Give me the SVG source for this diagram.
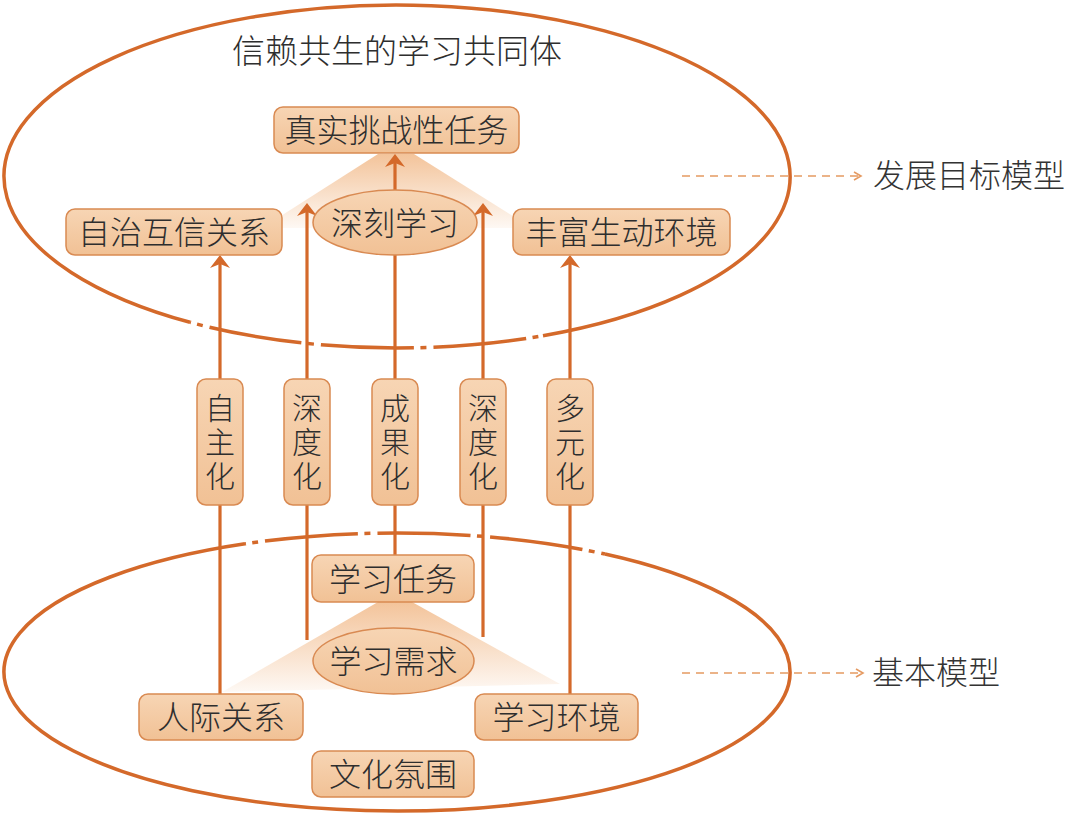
<svg xmlns="http://www.w3.org/2000/svg" width="1075" height="818" viewBox="0 0 1075 818">
<defs>
<style>
.t{font-family:"Noto Sans CJK SC","Noto Sans",sans-serif;font-weight:300;fill:#2e2e2e;text-anchor:middle;}
.v{writing-mode:vertical-rl;font-size:30px;letter-spacing:4px;}
.box{fill:url(#boxg);stroke:#d98a52;stroke-width:1.5;}
.ring{fill:none;stroke:#d4692a;stroke-width:3.5;}
.dd{stroke-dasharray:6 7 93 6.5;stroke-dashoffset:105;}
.ln{stroke:#d4692a;stroke-width:3.2;fill:none;}
.ar{marker-end:url(#ah);}
.lead{stroke:#e59a62;stroke-width:1.6;fill:none;stroke-dasharray:8 6;}
.chev{stroke:#e59a62;stroke-width:1.6;fill:none;}
.lbl{font-family:"Noto Sans CJK SC","Noto Sans",sans-serif;font-weight:300;fill:#333;font-size:32px;}
</style>
<linearGradient id="boxg" x1="0" y1="0" x2="0" y2="1"><stop offset="0" stop-color="#f7d5b4"/><stop offset="1" stop-color="#f1c195"/></linearGradient>
<linearGradient id="shade" x1="0" y1="0" x2="0" y2="1"><stop offset="0" stop-color="#f2bd8f" stop-opacity="0.9"/><stop offset="1" stop-color="#f2bd8f" stop-opacity="0.1"/></linearGradient>
<marker id="ah" viewBox="-10 -11 16 22" markerWidth="16" markerHeight="22" refX="0" refY="0" orient="auto" markerUnits="userSpaceOnUse"><path d="M5,0 L-8,-10 L-4,0 L-8,10 Z" fill="#d4692a"/></marker>
</defs>
<rect width="1075" height="818" fill="#fff"/>

<g id="shading">
<polygon points="378,154 414,154 532,228 262,228" fill="url(#shade)"/>
<polygon points="378,602 412,602 560,684 222,692" fill="url(#shade)"/>
</g>

<g id="rings">
<path class="ring" d="M190,322.28 A393,171.5 0 1 1 543,335.73"/>
<path class="ring dd" d="M190,322.28 A393,171.5 0 0 0 543,335.73"/>
<path class="ring dd" d="M245,543.82 A393,139 0 0 1 605,554.06"/>
<path class="ring" d="M605,554.06 A393,139 0 1 1 245,543.82"/>
</g>

<g id="connectors">
<path class="ln" d="M220,694 V505"/>
<path class="ln ar" d="M220,379 V260"/>
<path class="ln" d="M307,640 V505"/>
<path class="ln ar" d="M307,379 V208"/>
<path class="ln" d="M395,555 V505"/>
<path class="ln" d="M395,379 V255"/>
<path class="ln ar" d="M395,190 V159"/>
<path class="ln" d="M483,637 V505"/>
<path class="ln ar" d="M483,379 V208"/>
<path class="ln" d="M570,694 V505"/>
<path class="ln ar" d="M570,379 V260"/>
<path class="lead" d="M682,176 H860"/>
<polyline class="chev" points="854,172 861,176 854,180"/>
<path class="lead" d="M682,673 H862"/>
<polyline class="chev" points="856,669 863,673 856,677"/>
</g>

<g id="title"><text class="t" x="397" y="63" font-size="33">信赖共生的学习共同体</text></g>

<g id="n-zhenshi"><rect class="box" x="274" y="107" width="245" height="46" rx="9"/><text class="t" x="396.5" y="142" font-size="32">真实挑战性任务</text></g>
<g id="n-zizhi"><rect class="box" x="66" y="209" width="216" height="46" rx="9"/><text class="t" x="174" y="244" font-size="32">自治互信关系</text></g>
<g id="n-fengfu"><rect class="box" x="513" y="209" width="217" height="46" rx="9"/><text class="t" x="621.5" y="244" font-size="32">丰富生动环境</text></g>
<g id="n-shenke"><ellipse class="box" cx="395" cy="222.5" rx="82" ry="32.5"/><text class="t" x="395" y="235" font-size="32">深刻学习</text></g>

<g id="n-zizhu"><rect class="box" x="197" y="379" width="46" height="126" rx="9"/><text class="t v" x="220" y="444">自主化</text></g>
<g id="n-shendu1"><rect class="box" x="284" y="379" width="46" height="126" rx="9"/><text class="t v" x="307" y="444">深度化</text></g>
<g id="n-chengguo"><rect class="box" x="372" y="379" width="46" height="126" rx="9"/><text class="t v" x="395" y="444">成果化</text></g>
<g id="n-shendu2"><rect class="box" x="460" y="379" width="46" height="126" rx="9"/><text class="t v" x="483" y="444">深度化</text></g>
<g id="n-duoyuan"><rect class="box" x="547" y="379" width="46" height="126" rx="9"/><text class="t v" x="570" y="444">多元化</text></g>

<g id="n-renwu"><rect class="box" x="312" y="555" width="162" height="47" rx="9"/><text class="t" x="393" y="591" font-size="32">学习任务</text></g>
<g id="n-xuqiu"><ellipse class="box" cx="393.5" cy="661" rx="80.5" ry="33"/><text class="t" x="393.5" y="673" font-size="32">学习需求</text></g>
<g id="n-renji"><rect class="box" x="139" y="694" width="164" height="46" rx="9"/><text class="t" x="221" y="729" font-size="32">人际关系</text></g>
<g id="n-huanjing"><rect class="box" x="475" y="694" width="163" height="46" rx="9"/><text class="t" x="556.5" y="729" font-size="32">学习环境</text></g>
<g id="n-wenhua"><rect class="box" x="312" y="751" width="162" height="46" rx="9"/><text class="t" x="393" y="786" font-size="32">文化氛围</text></g>

<g id="labels">
<text class="lbl" x="873" y="187">发展目标模型</text>
<text class="lbl" x="872" y="684">基本模型</text>
</g>
</svg>
